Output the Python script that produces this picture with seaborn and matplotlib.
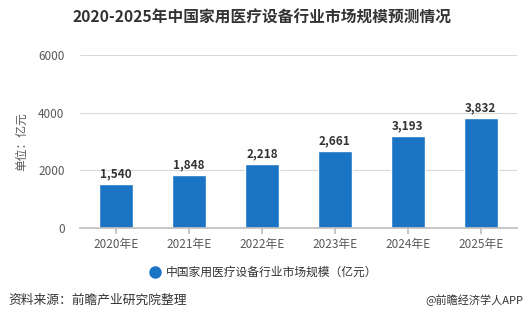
import matplotlib
matplotlib.use("Agg")
import matplotlib.pyplot as plt
import seaborn as sns
import pandas as pd

years = ["2020年E", "2021年E", "2022年E", "2023年E", "2024年E", "2025年E"]
values = [1540, 1848, 2218, 2661, 3193, 3832]
yticks = [0, 2000, 4000, 6000]

sns.set_theme(style="white")
plt.rcParams['font.family'] = ['Noto Sans CJK SC', 'DejaVu Sans']

df = pd.DataFrame({"year": years, "value": values})
fig = plt.figure(figsize=(5.32, 3.28), dpi=100)
ax = fig.add_axes([0.150, 0.305, 0.822, 0.527])
color = "#1b75c4"
sns.barplot(data=df, x="year", y="value", color=color, width=0.47, ax=ax, saturation=1)
ax.set_ylim(0, 6000)
ax.set_yticks(yticks)
ax.set_yticklabels([str(v) for v in yticks], fontsize=8.5, color="#595959")
ax.yaxis.grid(True, color="#d9d9d9", linewidth=0.8)
ax.set_axisbelow(True)
for s in ["top", "right", "left"]:
    ax.spines[s].set_visible(False)
ax.spines["bottom"].set_color("#bfbfbf")
ax.tick_params(axis="y", length=9, color="#d9d9d9", width=0.8, pad=2)
ax.tick_params(axis="x", length=4, color="#bfbfbf", labelsize=8.5, labelcolor="#595959", bottom=True)
ax.set_xlabel("")
ax.set_ylabel("单位：亿元", fontsize=8.5, color="#595959", labelpad=7)
for i, v in enumerate(values):
    ax.text(i, v + 120, f"{v:,}", ha="center", va="bottom", fontsize=8.5, fontweight="bold", color="#333333")

fig.text(0.492, 0.945, "2020-2025年中国家用医疗设备行业市场规模预测情况", ha="center", va="center",
         fontsize=11.3, fontweight="bold", color="#333333")
fig.lines.append(plt.Line2D([0.291], [0.171], marker="o", markersize=8, color=color, transform=fig.transFigure))
fig.text(0.312, 0.171, "中国家用医疗设备行业市场规模（亿元）", ha="left", va="center", fontsize=8.5, color="#333333")
fig.text(0.015, 0.085, "资料来源：前瞻产业研究院整理", ha="left", va="center", fontsize=9.2, color="#333333")
fig.text(0.983, 0.085, "@前瞻经济学人APP", ha="right", va="center", fontsize=8, color="#333333")
fig.savefig("out.png", dpi=100)
